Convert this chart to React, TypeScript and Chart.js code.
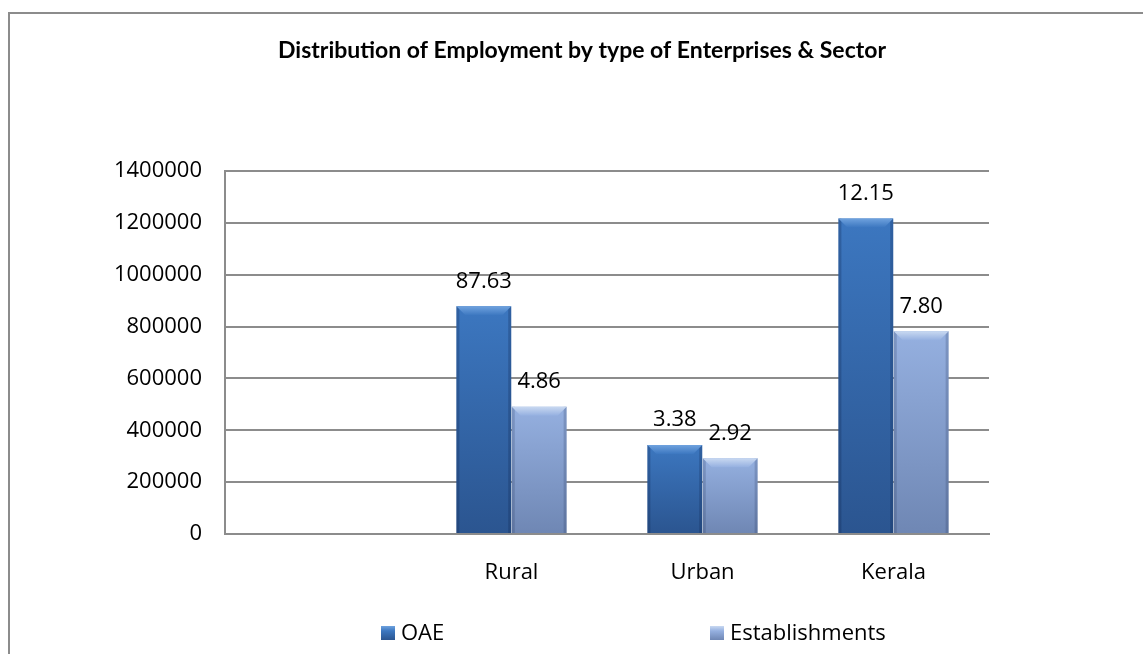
import React, { useEffect, useRef } from 'react';
import { Chart, registerables } from 'chart.js';

Chart.register(...registerables);

// ---- Data ----
const TITLE = 'Distribution of Employment by type of Enterprises & Sector';
const categories = ['', 'Rural', 'Urban', 'Kerala'];
const seriesNames = ['OAE', 'Establishments'];
const oaeValues = [null, 878000, 343000, 1217000];
const estValues = [null, 491000, 292000, 782000];
const oaeLabels = ['', '87.63', '3.38', '12.15'];
const estLabels = ['', '4.86', '2.92', '7.80'];
const yMax = 1400000;
const yStep = 200000;

// ---- Styles ----
const FONT = "'Open Sans', 'Noto Sans', sans-serif";
const TITLE_FONT = "Lato, 'Open Sans', sans-serif";
const GRID = '#8c8c8c';
const seriesColors = [
  { top: '#3C77C0', bottom: '#2B5590', bevel: '#6FA2DE', solid: '#3568AA', edge: 'rgba(10,30,70,0.25)' },
  { top: '#95B0E0', bottom: '#6F87B4', bevel: '#C9D9F1', solid: '#8CA5D3', edge: 'rgba(30,45,80,0.2)' },
];
const valueLabels = [oaeLabels, estLabels];

function barFill(i: number) {
  return (ctx: any) => {
    const el = ctx.element;
    const c = seriesColors[i];
    if (!el || typeof el.y !== 'number' || typeof el.base !== 'number' || !isFinite(el.y) || !isFinite(el.base)) {
      return c.solid;
    }
    const g = ctx.chart.ctx.createLinearGradient(0, el.y, 0, el.base);
    g.addColorStop(0, c.top);
    g.addColorStop(1, c.bottom);
    return g;
  };
}

const bevelPlugin = {
  id: 'bevel',
  afterDatasetsDraw(chart: any) {
    const ctx = chart.ctx;
    chart.data.datasets.forEach((_: any, di: number) => {
      const meta = chart.getDatasetMeta(di);
      const c = seriesColors[di];
      meta.data.forEach((el: any, idx: number) => {
        const v = chart.data.datasets[di].data[idx];
        if (v == null) return;
        const l = el.x - el.width / 2;
        const r = el.x + el.width / 2;
        const t = el.y;
        const b = 9;
        ctx.save();
        ctx.fillStyle = c.edge;
        ctx.fillRect(l, t, 3, el.base - t);
        ctx.fillRect(r - 3, t, 3, el.base - t);
        const g = ctx.createLinearGradient(0, t, 0, t + b);
        g.addColorStop(0, c.bevel);
        g.addColorStop(1, c.top);
        ctx.fillStyle = g;
        ctx.beginPath();
        ctx.moveTo(l, t);
        ctx.lineTo(r, t);
        ctx.lineTo(r - b, t + b);
        ctx.lineTo(l + b, t + b);
        ctx.closePath();
        ctx.fill();
        ctx.restore();
      });
    });
  },
};

const valueLabelPlugin = {
  id: 'valueLabels',
  afterDatasetsDraw(chart: any) {
    const ctx = chart.ctx;
    ctx.save();
    ctx.font = `22px ${FONT}`;
    ctx.fillStyle = '#000';
    ctx.textAlign = 'center';
    ctx.textBaseline = 'middle';
    chart.data.datasets.forEach((_: any, di: number) => {
      const meta = chart.getDatasetMeta(di);
      meta.data.forEach((el: any, idx: number) => {
        const txt = valueLabels[di][idx];
        if (!txt) return;
        ctx.fillText(txt, el.x, el.y - 25);
      });
    });
    ctx.restore();
  },
};

const legendPlugin = {
  id: 'customLegend',
  afterDraw(chart: any) {
    const ctx = chart.ctx;
    const items = [
      { box: 381, text: 401 },
      { box: 710, text: 730 },
    ];
    const cy = 633;
    const s = 14;
    ctx.save();
    ctx.font = `22px ${FONT}`;
    ctx.textBaseline = 'middle';
    ctx.textAlign = 'left';
    chart.data.datasets.forEach((ds: any, di: number) => {
      const it = items[di];
      const c = seriesColors[di];
      const g = ctx.createLinearGradient(0, cy - s / 2, 0, cy + s / 2);
      g.addColorStop(0, c.bevel);
      g.addColorStop(0.35, c.top);
      g.addColorStop(1, c.bottom);
      ctx.fillStyle = g;
      ctx.fillRect(it.box, cy - s / 2, s, s);
      ctx.fillStyle = '#000';
      ctx.fillText(ds.label, it.text, cy + 1);
    });
    ctx.restore();
  },
};

export default function App() {
  const ref = useRef<HTMLCanvasElement | null>(null);

  useEffect(() => {
    if (!ref.current) return;
    const chart = new Chart(ref.current, {
      type: 'bar',
      data: {
        labels: categories,
        datasets: [
          {
            label: seriesNames[0],
            data: oaeValues as any,
            backgroundColor: barFill(0) as any,
            borderWidth: 0,
            categoryPercentage: 0.58,
            barPercentage: 0.99,
          },
          {
            label: seriesNames[1],
            data: estValues as any,
            backgroundColor: barFill(1) as any,
            borderWidth: 0,
            categoryPercentage: 0.58,
            barPercentage: 0.99,
          },
        ],
      },
      options: {
        responsive: false,
        animation: false,
        layout: { padding: { left: 21, right: 0, top: 0, bottom: 0 } },
        plugins: {
          legend: { display: false },
          tooltip: { enabled: false },
          title: {
            display: true,
            text: TITLE,
            color: '#000',
            font: { family: TITLE_FONT, size: 23, weight: 'bold', lineHeight: 1.2 },
            padding: { top: 37, bottom: 106.4 },
          },
        },
        scales: {
          x: {
            grid: { display: false, drawTicks: false },
            border: { display: true, color: GRID, width: 2 },
            ticks: { color: '#000', font: { family: FONT, size: 22 }, padding: 26, maxRotation: 0, autoSkip: false },
            afterFit: (s: any) => {
              s.height = 120;
            },
          },
          y: {
            min: 0,
            max: yMax,
            ticks: {
              stepSize: yStep,
              color: '#000',
              font: { family: FONT, size: 22 },
              padding: 23,
              callback: (v: any) => String(v),
            },
            grid: { color: GRID, lineWidth: 2, drawTicks: false },
            border: { display: true, color: GRID, width: 2 },
            afterFit: (s: any) => {
              s.width = 204;
            },
          },
          yRightSpace: {
            position: 'right',
            display: true,
            grid: { display: false, drawTicks: false },
            border: { display: false },
            ticks: { display: false },
            afterFit: (s: any) => {
              s.width = 154;
            },
          },
        },
      } as any,
      plugins: [bevelPlugin, valueLabelPlugin, legendPlugin],
    });
    chart.update();
    return () => chart.destroy();
  }, []);

  return (
    <div style={{ position: 'absolute', left: 0, top: 0, width: 1143, height: 654, overflow: 'hidden', background: '#fff' }}>
      <div
        style={{
          position: 'absolute',
          left: 8,
          top: 12,
          width: 1300,
          height: 800,
          borderLeft: `2px solid ${GRID}`,
          borderTop: `2px solid ${GRID}`,
        }}
      />
      <canvas ref={ref} width={1143} height={654} style={{ position: 'absolute', left: 0, top: 0, width: 1143, height: 654 }} />
    </div>
  );
}
